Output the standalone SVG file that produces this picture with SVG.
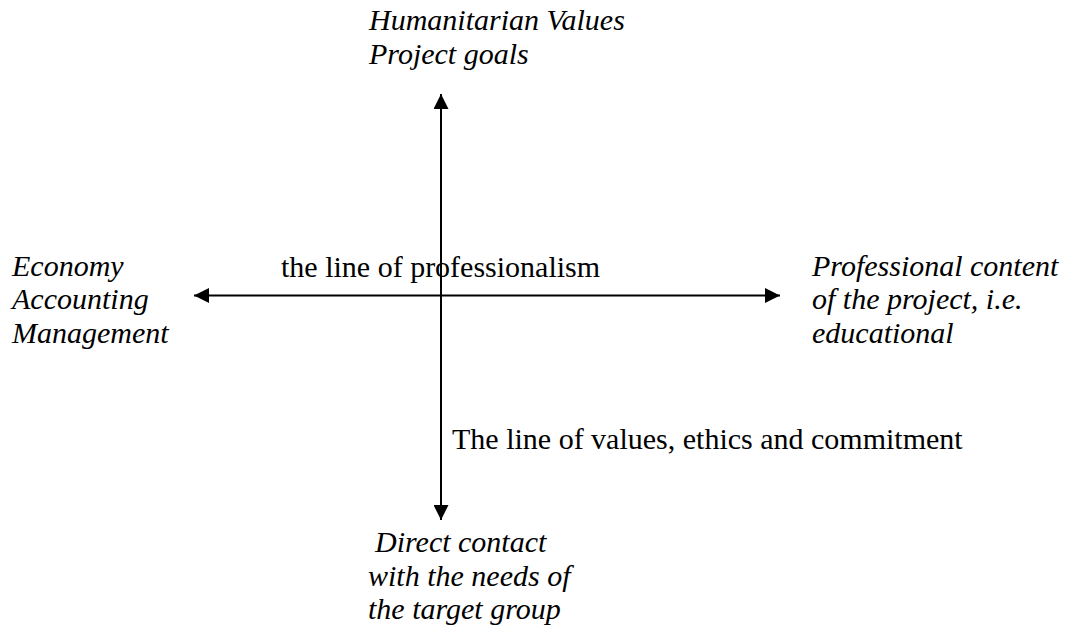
<svg xmlns="http://www.w3.org/2000/svg" width="1065" height="626" viewBox="0 0 1065 626">
<style>
text{font-family:"Liberation Serif","Times New Roman",serif;font-size:30px;fill:#000}
.i{font-style:italic}
.ln{stroke:#000;stroke-width:2;fill:none}
</style>
<defs>
<marker id="a" viewBox="0 0 15 15" refX="15" refY="7.5" markerWidth="15" markerHeight="15" markerUnits="userSpaceOnUse" orient="auto-start-reverse">
<path d="M0,0 L15,7.5 L0,15 Z" fill="#000"/>
</marker>
</defs>
<g id="connectors">
<line class="ln" x1="441" y1="94" x2="441" y2="520" marker-start="url(#a)" marker-end="url(#a)"/>
<line class="ln" x1="194" y1="295.5" x2="780" y2="295.5" marker-start="url(#a)" marker-end="url(#a)"/>
</g>
<g id="top">
<text class="i" x="369" y="30">Humanitarian Values</text>
<text class="i" x="369" y="64">Project goals</text>
</g>
<g id="left">
<text class="i" x="12" y="276">Economy</text>
<text class="i" x="12" y="309">Accounting</text>
<text class="i" x="12" y="343">Management</text>
</g>
<g id="right">
<text class="i" x="812" y="276">Professional content</text>
<text class="i" x="812" y="309">of the project, i.e.</text>
<text class="i" x="812" y="343">educational</text>
</g>
<g id="bottom">
<text class="i" x="375" y="552">Direct contact</text>
<text class="i" x="368" y="586">with the needs of</text>
<text class="i" x="368" y="619">the target group</text>
</g>
<g id="label-h">
<text x="281" y="277">the line of professionalism</text>
</g>
<g id="label-v">
<text x="452" y="449">The line of values, ethics and commitment</text>
</g>
</svg>
